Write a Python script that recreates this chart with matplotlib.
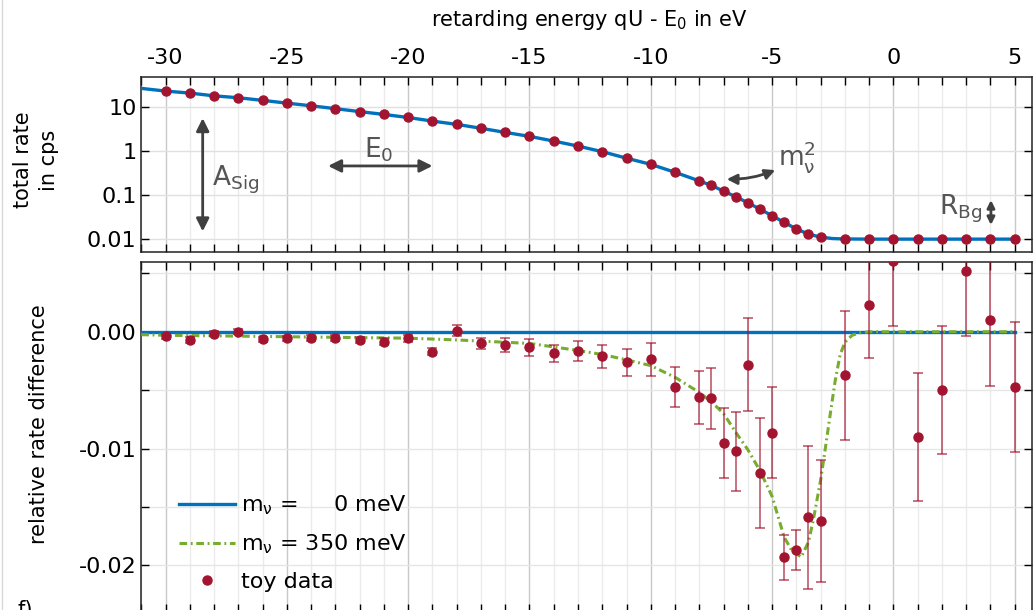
import numpy as np
import matplotlib
matplotlib.use('Agg')
import matplotlib.pyplot as plt
from matplotlib.ticker import MultipleLocator, FixedLocator, FixedFormatter, LogLocator, NullFormatter, FuncFormatter
from matplotlib.lines import Line2D

plt.rcParams['font.family'] = ['DejaVu Sans']
plt.rcParams['mathtext.fontset'] = 'dejavusans'
plt.rcParams['axes.unicode_minus'] = False

# retarding energies of the toy data (eV)
qU = [-30, -29, -28, -27, -26, -25, -24, -23, -22, -21, -20, -19, -18, -17, -16,
      -15, -14, -13, -12, -11, -10, -9, -8, -7.5, -7, -6.5, -6, -5.5, -5, -4.5,
      -4, -3.5, -3, -2, -1, 0, 1, 2, 3, 4, 5]

# total rate (cps)
rate = [23.1, 20.8, 18.0, 16.3, 14.2, 12.3, 10.7, 9.2, 7.9, 6.8, 5.8, 4.8, 4.05,
        3.3, 2.66, 2.16, 1.69, 1.30, 0.97, 0.69, 0.50, 0.33, 0.21, 0.166, 0.123,
        0.092, 0.067, 0.048, 0.034, 0.024, 0.017, 0.013, 0.0111, 0.0101, 0.010,
        0.010, 0.010, 0.010, 0.010, 0.010, 0.010]

# model curve for the rate
fit_x = [-31, -30, -29, -28, -27, -26, -25, -24, -23, -22, -21, -20, -19, -18, -17,
         -16, -15, -14, -13, -12, -11, -10, -9, -8, -7.5, -7, -6.5, -6, -5.5, -5,
         -4.5, -4, -3.5, -3, -2.5, -2, -1, 0, 1, 2, 3, 4, 5]
fit_rate = [26.6, 23.1, 20.8, 18.0, 16.3, 14.2, 12.3, 10.7, 9.2, 7.9, 6.8, 5.8, 4.8,
            4.05, 3.3, 2.66, 2.16, 1.69, 1.30, 0.97, 0.69, 0.50, 0.33, 0.21, 0.166,
            0.123, 0.092, 0.067, 0.048, 0.034, 0.024, 0.017, 0.013, 0.0111, 0.0103,
            0.0101, 0.010, 0.010, 0.010, 0.010, 0.010, 0.010, 0.010]

# relative rate difference of toy data + errors
rel = [-0.00040, -0.00068, -0.00015, 0.0, -0.00063, -0.00057, -0.00051, -0.00051,
       -0.00068, -0.00085, -0.00054, -0.0017, 0.0001, -0.0010, -0.0011, -0.00134,
       -0.00185, -0.00163, -0.00211, -0.00262, -0.00237, -0.00476, -0.00562, -0.0057,
       -0.00955, -0.01023, -0.00282, -0.01208, -0.00863, -0.01932, -0.01869, -0.0159,
       -0.0162, -0.00374, 0.00228, 0.0061, -0.0090, -0.0050, 0.0052, 0.00097, -0.00473]
rel_err = [0.00025, 0.00025, 0.00022, 0.00022, 0.00022, 0.00022, 0.00025, 0.00025,
           0.00025, 0.0003, 0.0003, 0.00033, 0.0005, 0.0005, 0.0006, 0.0007, 0.00075,
           0.00087, 0.0010, 0.00114, 0.0014, 0.0017, 0.0023, 0.0026, 0.0030, 0.0034,
           0.0040, 0.0047, 0.0039, 0.0019, 0.0017, 0.0061, 0.0052, 0.0055, 0.0045,
           0.0056, 0.0055, 0.0055, 0.0056, 0.0056, 0.0056]

# zero mass line and 350 meV model
zero_x = [-31, 5]
zero_y = [0.0, 0.0]
m350_x = [-31, -30, -28, -26, -24, -22, -20, -18, -16, -15, -14, -13, -12, -11, -10,
          -9, -8, -7.5, -7, -6.5, -6, -5.5, -5, -4.5, -4.2, -3.8, -3.5, -3.3, -3.0,
          -2.8, -2.6, -2.4, -2.2, -2.0, -1.7, -1.4, -1.0, 5]
m350_y = [-0.00025, -0.0003, -0.00035, -0.0004, -0.00045, -0.0005, -0.00055, -0.0007,
          -0.0009, -0.0010, -0.0013, -0.0016, -0.00195, -0.0024, -0.0029, -0.0039,
          -0.0052, -0.0060, -0.0070, -0.0086, -0.0101, -0.0119, -0.0141, -0.0176,
          -0.0187, -0.0193, -0.0180, -0.0161, -0.0127, -0.0099, -0.0070, -0.0042,
          -0.0020, -0.0009, -0.0003, -0.0001, 0.0, 0.0]

blue = '#0072bd'
red = '#a2142f'
green = '#77ac30'
grey = '#404040'
fs = 15
tfs = 16

W, H = 1034, 610
fig = plt.figure(figsize=(W / 100, H / 100), dpi=100)
ax1 = fig.add_axes([141.3 / W, (H - 252) / H, 890.4 / W, 175.3 / H])
ax2 = fig.add_axes([141.3 / W, (H - 612) / H, 890.4 / W, 350.3 / H])

for ax in (ax1, ax2):
    ax.set_xlim(-31, 5.7)
    ax.xaxis.set_major_locator(MultipleLocator(5))
    ax.xaxis.set_minor_locator(MultipleLocator(1))
    ax.grid(which='major', axis='x', color='#c8c8c8', lw=1.0)
    ax.grid(which='minor', axis='x', color='#ebebeb', lw=1.0)
    ax.tick_params(which='both', direction='in', top=True, bottom=True,
                   left=True, right=True, labelsize=tfs, width=1.0, color='black')
    ax.tick_params(axis='x', which='both', length=6)
    ax.set_axisbelow(True)
    for s in ax.spines.values():
        s.set_linewidth(1.1)
        s.set_color('#222222')

# --- top panel ---
ax1.set_yscale('log')
ax1.set_ylim(0.0051, 49)
ax1.yaxis.set_major_locator(FixedLocator([0.01, 0.1, 1, 10]))
ax1.yaxis.set_major_formatter(FixedFormatter(['0.01', '0.1', '1', '10']))
ax1.yaxis.set_minor_locator(LogLocator(base=10, subs=np.arange(2, 10)))
ax1.yaxis.set_minor_formatter(NullFormatter())
ax1.tick_params(axis='y', which='major', length=6)
ax1.tick_params(axis='y', which='minor', length=3)
ax1.grid(which='major', axis='y', color='#e0e0e0', lw=1.0)
ax1.tick_params(axis='x', labeltop=True, labelbottom=False, pad=6)
ax1.xaxis.set_major_formatter(FuncFormatter(lambda v, p: '%d' % v))

ax1.plot(fit_x, fit_rate, color=blue, lw=2.4, zorder=3)
ax1.plot(qU, rate, 'o', color=red, ms=6.5, zorder=4)

arr = dict(arrowstyle='<|-|>', color=grey, lw=2.0, mutation_scale=19,
           shrinkA=0, shrinkB=0)
ax1.annotate('', xy=(-28.47, 5.6), xytext=(-28.47, 0.015), arrowprops=arr)
ax1.text(-28.1, 0.22, r'$\mathregular{A_{Sig}}$', fontsize=19, color='#555555',
         va='center', ha='left')
ax1.annotate('', xy=(-23.3, 0.46), xytext=(-19.0, 0.46), arrowprops=arr)
ax1.text(-21.2, 1.05, r'$\mathregular{E_0}$', fontsize=19, color='#555555',
         va='center', ha='center')
arr2 = dict(arr, connectionstyle='arc3,rad=-0.1', mutation_scale=15)
ax1.annotate('', xy=(-6.87, 0.23), xytext=(-4.87, 0.37), arrowprops=arr2)
ax1.text(-4.75, 0.75, r'$\mathregular{m_\nu^2}$', fontsize=19, color='#555555',
         va='center', ha='left')
arr3 = dict(arr, mutation_scale=11)
ax1.annotate('', xy=(4.02, 0.077), xytext=(4.02, 0.021), arrowprops=arr3)
ax1.text(3.65, 0.048, r'$\mathregular{R_{Bg}}$', fontsize=19, color='#555555',
         va='center', ha='right')

# --- bottom panel ---
ax2.set_ylim(-0.024, 0.006)
ax2.yaxis.set_major_locator(MultipleLocator(0.01))
ax2.yaxis.set_minor_locator(MultipleLocator(0.005))
ax2.yaxis.set_major_formatter(FuncFormatter(lambda v, p: '%.2f' % v))
ax2.tick_params(axis='y', which='both', length=6)
ax2.tick_params(axis='x', labelbottom=False)
ax2.grid(which='both', axis='y', color='#e6e6e6', lw=1.0)

ax2.plot(zero_x, zero_y, color=blue, lw=2.4, zorder=3,
         label=r'$\mathregular{m_\nu}$ = ' + '\u2007\u2007' + '0 meV')
ax2.plot(m350_x, m350_y, color=green, lw=2.2, ls=(0, (2.5, 1.2, 0.6, 1.2)),
         zorder=4, label=r'$\mathregular{m_\nu}$ = 350 meV')
ax2.errorbar(qU, rel, yerr=rel_err, fmt='none', ecolor=red, alpha=0.65,
             elinewidth=1.3, capsize=3.5, capthick=1.3, zorder=5)
ax2.plot(qU, rel, 'o', color=red, ms=6.5, zorder=6, label='toy data')

leg = ax2.legend(loc='lower left', bbox_to_anchor=(0.02, 0.0), frameon=False,
                 fontsize=tfs, handlelength=2.5, labelspacing=0.7,
                 handletextpad=0.3)

# axis labels
fig.text(589 / W, 1 - 20 / H, r'retarding energy qU - $\mathregular{E_0}$ in eV',
         fontsize=fs, ha='center', va='center')
fig.text(36 / W, 1 - 160 / H, 'total rate\nin cps', fontsize=fs, ha='center',
         va='center', rotation=90, linespacing=1.35)
fig.text(39 / W, 1 - 424 / H, 'relative rate difference', fontsize=fs,
         ha='center', va='center', rotation=90)
fig.text(18 / W, 1 - 600 / H, 'f)', fontsize=fs, ha='left', va='top')
fig.add_artist(Line2D([2 / W, 2 / W], [0, 1], color='#d8d8d8', lw=1.0))

fig.savefig('out.png', dpi=100)
